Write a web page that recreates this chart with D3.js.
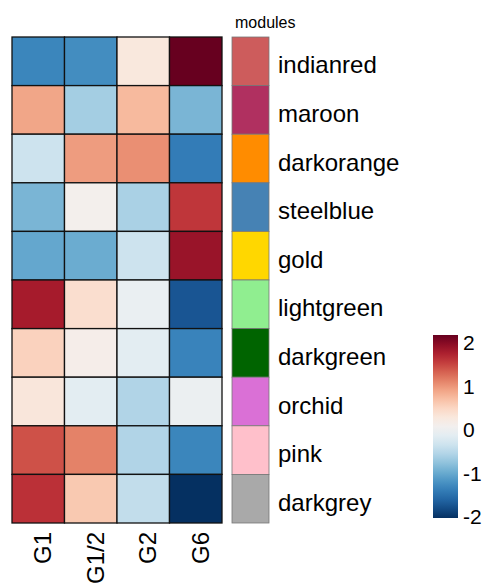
<!DOCTYPE html>
<html>
<head>
<meta charset="utf-8">
<script src="https://cdn.jsdelivr.net/npm/d3@7"></script>
<style>
  body { margin: 0; background: #fff; }
  text { font-family: "Liberation Sans", Arial, sans-serif; }
</style>
</head>
<body>
<div id="chart"></div>
<script>
const columns = ["G1", "G1/2", "G2", "G6"];
const modules = ["indianred", "maroon", "darkorange", "steelblue", "gold",
                 "lightgreen", "darkgreen", "orchid", "pink", "darkgrey"];
const moduleColors = ["#CD5C5C", "#B03060", "#FF8C00", "#4682B4", "#FFD700",
                      "#90EE90", "#006400", "#DA70D6", "#FFC0CB", "#A9A9A9"];
// one row per module, values for G1, G1/2, G2, G6
const values = [
    [-1.32, -1.26, 0.2, 2.0],
    [0.78, -0.68, 0.64, -0.92],
    [-0.4, 0.84, 0.92, -1.4],
    [-0.92, 0.03, -0.64, 1.44],
    [-1.04, -1.0, -0.4, 1.72],
    [1.64, 0.32, -0.12, -1.72],
    [0.44, 0.08, -0.2, -1.34],
    [0.22, -0.2, -0.6, -0.1],
    [1.28, 1.0, -0.6, -1.32],
    [1.48, 0.52, -0.48, -2.0],
];
const legendTicks = [2, 1, 0, -1, -2];

const width = 485;
const height = 583;

const svg = d3.select("#chart").append("svg")
    .attr("width", width)
    .attr("height", height);

const x = d3.scaleBand().domain(columns).range([12, 222]);
const y = d3.scaleBand().domain(modules).range([37, 523]);
const color = v => d3.interpolateRdBu((2 - Math.max(-2, Math.min(2, v))) / 4);

// heatmap cells
const cells = [];
values.forEach((row, i) => row.forEach((v, j) => cells.push({ m: modules[i], c: columns[j], v })));

svg.selectAll(".cell")
    .data(cells)
    .enter().append("rect")
    .attr("class", "cell")
    .attr("x", d => x(d.c))
    .attr("y", d => y(d.m))
    .attr("width", x.bandwidth())
    .attr("height", y.bandwidth())
    .attr("fill", d => color(d.v))
    .attr("stroke", "#111")
    .attr("stroke-width", 1.3);

// module annotation column
const ann = d3.scaleBand().domain(["modules"]).range([232, 269]);
svg.selectAll(".mod")
    .data(modules)
    .enter().append("rect")
    .attr("class", "mod")
    .attr("x", ann("modules"))
    .attr("y", d => y(d))
    .attr("width", ann.bandwidth())
    .attr("height", y.bandwidth())
    .attr("fill", (d, i) => moduleColors[i])
    .attr("stroke", "#777")
    .attr("stroke-width", 0.8);

svg.append("text")
    .attr("x", 235)
    .attr("y", 28)
    .attr("font-size", 16)
    .text("modules");

svg.selectAll(".rowlab")
    .data(modules)
    .enter().append("text")
    .attr("class", "rowlab")
    .attr("x", 278)
    .attr("y", d => y(d) + y.bandwidth() / 2 + 12)
    .attr("font-size", 24)
    .text(d => d);

// column labels
svg.selectAll(".collab")
    .data(columns)
    .enter().append("text")
    .attr("class", "collab")
    .attr("transform", d => "translate(" + (x(d) + x.bandwidth() / 2 + 13) + ",532) rotate(-90)")
    .attr("text-anchor", "end")
    .attr("font-size", 24)
    .text(d => d);

// colour bar legend
const barTop = 335, barBottom = 518;
const defs = svg.append("defs");
const grad = defs.append("linearGradient")
    .attr("id", "grad")
    .attr("x1", 0).attr("y1", 0).attr("x2", 0).attr("y2", 1);
d3.range(0, 1.0001, 0.05).forEach(t => {
    grad.append("stop")
        .attr("offset", t)
        .attr("stop-color", color(2 - 4 * t));
});
svg.append("rect")
    .attr("x", 433)
    .attr("y", barTop)
    .attr("width", 25)
    .attr("height", barBottom - barTop)
    .attr("fill", "url(#grad)");

const ty = d3.scaleLinear().domain([2, -2]).range([350, 524]);
svg.selectAll(".ltick")
    .data(legendTicks)
    .enter().append("text")
    .attr("class", "ltick")
    .attr("x", 463)
    .attr("y", d => ty(d))
    .attr("font-size", 21)
    .text(d => d);
</script>
</body>
</html>
